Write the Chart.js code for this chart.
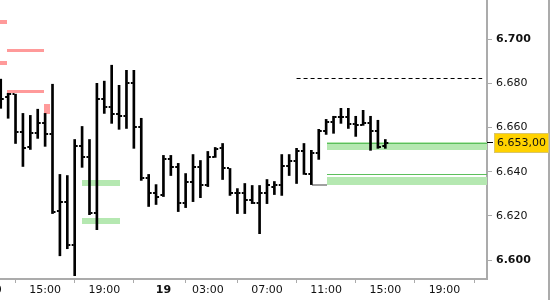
<!DOCTYPE html>
<html><head><meta charset="utf-8">
<script src="https://cdn.jsdelivr.net/npm/chart.js@4/dist/chart.umd.min.js"></script>
<style>html,body{margin:0;padding:0;background:#fff;overflow:hidden}#wrap{width:550px;height:300px;position:relative}</style>
</head><body><div id="wrap"><canvas id="c" width="550" height="300"></canvas></div>
<script>
// 30-minute bars: slot 0 = day 19 00:00 (day 18 session ends 22:30)
const barSlot = [-22,-21,-20,-19,-18,-17,-16,-15,-14,-13,-12,-11,-10,-9,-8,-7,-6,-5,-4,-3,-2,-1,
  0,1,2,3,4,5,6,7,8,9,10,11,12,13,14,15,16,17,18,19,20,21,22,23,24,25,26,27,28,29,30];
const openV = [6.6746,6.6737,6.6751,6.6578,6.6510,6.6574,6.6619,6.6569,6.6224,6.6265,6.6070,6.6515,6.6469,6.6215,6.6728,6.6692,6.6660,6.6651,6.6800,6.6601,6.6374,6.6306,
  6.6293,6.6460,6.6420,6.6261,6.6356,6.6420,6.6338,6.6469,6.6506,6.6415,6.6306,6.6306,6.6274,6.6261,6.6302,6.6333,6.6342,6.6424,6.6447,6.6492,6.6392,6.6483,6.6583,6.6624,6.6646,6.6646,6.6615,6.6610,6.6619,6.6583,6.6515];
const highV = [6.6819,6.6755,6.6751,6.6664,6.6655,6.6683,6.6664,6.6796,6.6388,6.6383,6.6546,6.6605,6.6546,6.6800,6.6810,6.6882,6.6791,6.6859,6.6859,6.6642,6.6388,6.6342,
  6.6474,6.6474,6.6438,6.6392,6.6478,6.6451,6.6492,6.6510,6.6528,6.6415,6.6324,6.6347,6.6338,6.6338,6.6365,6.6356,6.6478,6.6478,6.6506,6.6528,6.6497,6.6592,6.6637,6.6651,6.6687,6.6687,6.6651,6.6678,6.6651,6.6633,6.6546];
const lowV = [6.6687,6.6642,6.6528,6.6424,6.6501,6.6551,6.6515,6.6211,6.6020,6.6052,6.5930,6.6420,6.6206,6.6138,6.6664,6.6619,6.6592,6.6596,6.6506,6.6361,6.6243,6.6252,
  6.6288,6.6383,6.6220,6.6238,6.6265,6.6283,6.6333,6.6465,6.6365,6.6293,6.6211,6.6211,6.6256,6.6120,6.6256,6.6297,6.6293,6.6383,6.6347,6.6388,6.6342,6.6456,6.6569,6.6574,6.6619,6.6596,6.6560,6.6610,6.6497,6.6506,6.6506];
const closeV = [6.6728,6.6751,6.6578,6.6506,6.6574,6.6619,6.6569,6.6220,6.6265,6.6070,6.6515,6.6469,6.6215,6.6728,6.6692,6.6660,6.6651,6.6800,6.6601,6.6374,6.6306,6.6288,
  6.6460,6.6420,6.6261,6.6356,6.6420,6.6338,6.6469,6.6501,6.6415,6.6306,6.6306,6.6274,6.6261,6.6302,6.6338,6.6342,6.6424,6.6447,6.6492,6.6392,6.6483,6.6583,6.6624,6.6646,6.6646,6.6615,6.6610,6.6619,6.6583,6.6510,6.6530];

const yTickValues = [6.600, 6.620, 6.640, 6.660, 6.680, 6.700];
const xTickSlots = [-24, -16, -8, 0, 6, 14, 22, 30, 38];
const xTickLabels = ['11:00', '15:00', '19:00', '19', '03:00', '07:00', '11:00', '15:00', '19:00'];

// zones: [fromSlot, toSlot, lowPrice, highPrice]  (null = edge of plot)
const redZones = [
  [null, -21.1, 6.7068, 6.7086],
  [-21.1, -16.1, 6.6941, 6.6955],
  [null, -21.1, 6.6882, 6.6900],
  [-21.1, -16.1, 6.6755, 6.6769],
  [-16.1, -15.3, 6.6660, 6.6705]
];
const greenZones = [
  [-11.0, -5.9, 6.6335, 6.6361],
  [-11.0, -5.9, 6.6166, 6.6193],
  [22.07, null, 6.6497, 6.6533],
  [22.07, null, 6.6342, 6.6375]
];
const greenLines = [[22.07, null, 6.6530], [22.07, null, 6.6391]];
const grayLines = [[20.1, 22.07, 6.6342]];
const dashedLines = [[18.0, 43.1, 6.6823]];

const FONT = '"DejaVu Sans", Verdana, sans-serif';
const AXIS = '#ababab';

function xp(sc, v, area, edge) { return v === null ? edge : sc.getPixelForValue(v); }

const zonesPlugin = {
  id: 'zones',
  beforeDatasetsDraw(chart) {
    const {ctx, chartArea: a, scales: {x, y}} = chart;
    ctx.save();
    ctx.beginPath(); ctx.rect(a.left, a.top, a.right - a.left, a.bottom - a.top); ctx.clip();
    ctx.fillStyle = '#ff9a9a';
    redZones.forEach(z => {
      const x0 = Math.round(xp(x, z[0], a, a.left)), x1 = Math.round(xp(x, z[1], a, a.right));
      const y0 = Math.round(y.getPixelForValue(z[3])), y1 = Math.round(y.getPixelForValue(z[2]));
      ctx.fillRect(x0, y0, x1 - x0, y1 - y0);
    });
    ctx.fillStyle = '#a0a0a0';
    grayLines.forEach(l => {
      const yy = Math.round(y.getPixelForValue(l[2]));
      const x0 = Math.round(xp(x, l[0], a, a.left)), x1 = Math.round(xp(x, l[1], a, a.right));
      ctx.fillRect(x0, yy - 1, x1 - x0, 2);
    });
    ctx.fillStyle = '#b5e8b1';
    greenZones.forEach(z => {
      const x0 = Math.round(xp(x, z[0], a, a.left)), x1 = Math.round(xp(x, z[1], a, a.right));
      const y0 = Math.round(y.getPixelForValue(z[3])), y1 = Math.round(y.getPixelForValue(z[2]));
      ctx.fillRect(x0, y0, x1 - x0, y1 - y0);
    });
    ctx.fillStyle = '#5cbf5c';
    greenLines.forEach(l => {
      const yy = Math.round(y.getPixelForValue(l[2]));
      const x0 = Math.round(xp(x, l[0], a, a.left)), x1 = Math.round(xp(x, l[1], a, a.right));
      ctx.fillRect(x0, yy, x1 - x0, 1);
    });
    ctx.strokeStyle = '#000'; ctx.lineWidth = 1; ctx.setLineDash([4, 3]);
    dashedLines.forEach(l => {
      const yy = Math.round(y.getPixelForValue(l[2])) + 0.5;
      ctx.beginPath(); ctx.moveTo(xp(x, l[0], a, a.left), yy); ctx.lineTo(xp(x, l[1], a, a.right), yy); ctx.stroke();
    });
    ctx.restore();
  }
};

const ohlcTicks = {
  id: 'ohlcTicks',
  afterDatasetsDraw(chart) {
    const {ctx, chartArea: a, scales: {y}} = chart;
    const meta = chart.getDatasetMeta(0);
    ctx.save();
    ctx.beginPath(); ctx.rect(a.left, a.top, a.right - a.left, a.bottom - a.top); ctx.clip();
    ctx.fillStyle = '#000';
    meta.data.forEach((el, i) => {
      const px = el.x;
      const yo = Math.round(y.getPixelForValue(openV[i]));
      const yc = Math.round(y.getPixelForValue(closeV[i]));
      ctx.fillRect(px - 3, yo - 1, 2, 2);
      ctx.fillRect(px + 1, yc - 1, 2, 2);
    });
    ctx.restore();
  }
};

const lastLabel = {
  id: 'lastLabel',
  afterDraw(chart) {
    const {ctx, chartArea: a, scales: {y}} = chart;
    ctx.save();
    ctx.fillStyle = AXIS;
    ctx.fillRect(chart.width - 2, 0, 2, chart.height);
    const last = closeV[closeV.length - 1];
    const yy = Math.round(y.getPixelForValue(last));
    ctx.fillStyle = '#000';
    ctx.fillRect(a.right, yy - 1, 6, 1);
    ctx.fillStyle = '#ffd200';
    ctx.fillRect(494, yy - 10, 55, 20);
    ctx.strokeStyle = '#d9c56a'; ctx.lineWidth = 1;
    ctx.strokeRect(494.5, yy - 9.5, 54, 19);
    const pts = (last * 1000).toFixed(2).split('.');
    const intPart = pts[0].replace(/\B(?=(\d{3})+(?!\d))/g, '.');
    ctx.fillStyle = '#111';
    ctx.font = '11px ' + FONT;
    ctx.textBaseline = 'middle'; ctx.textAlign = 'left';
    ctx.fillText(intPart + ',' + pts[1], 497, yy + 0.5);
    ctx.restore();
  }
};

new Chart(document.getElementById('c'), {
  type: 'bar',
  data: {
    datasets: [{
      data: barSlot.map((s, i) => ({x: s, y: [lowV[i], highV[i]]})),
      backgroundColor: '#000',
      borderWidth: 0,
      barThickness: 2,
      grouped: false
    }]
  },
  options: {
    responsive: false,
    animation: false,
    devicePixelRatio: 1,
    layout: {padding: 0},
    plugins: {legend: {display: false}, tooltip: {enabled: false}},
    scales: {
      x: {
        type: 'linear', min: -22.1, max: 43.75, offset: false, bounds: 'data',
        grid: {drawOnChartArea: false, drawTicks: true, tickLength: 4, color: AXIS},
        border: {display: true, color: AXIS, width: 2},
        afterBuildTicks: s => { s.ticks = xTickSlots.map(v => ({value: v})); },
        afterFit: s => { s.height = 21; s.paddingLeft = 0; s.paddingRight = 0; },
        ticks: {
          autoSkip: false, maxRotation: 0, minRotation: 0, padding: 1, color: '#111',
          font: c => ({family: FONT, size: 11, weight: xTickLabels[c.index] === '19' ? 'bold' : 'normal'}),
          callback: (v, i) => xTickLabels[i]
        }
      },
      y: {
        position: 'right', min: 6.5915, max: 6.7177, bounds: 'data',
        grid: {drawOnChartArea: false, drawTicks: true, tickLength: 5, color: AXIS},
        border: {display: true, color: AXIS, width: 2},
        afterBuildTicks: s => { s.ticks = yTickValues.map(v => ({value: v})); },
        afterFit: s => { s.width = 63; s.paddingTop = 0; s.paddingBottom = 0; },
        ticks: {
          padding: 4, color: '#111',
          font: c => ({family: FONT, size: 11,
            weight: (c.tick && Math.abs(c.tick.value * 10 - Math.round(c.tick.value * 10)) < 1e-6) ? 'bold' : 'normal'}),
          callback: v => v.toFixed(3)
        }
      }
    }
  },
  plugins: [zonesPlugin, ohlcTicks, lastLabel]
});
</script></body></html>
